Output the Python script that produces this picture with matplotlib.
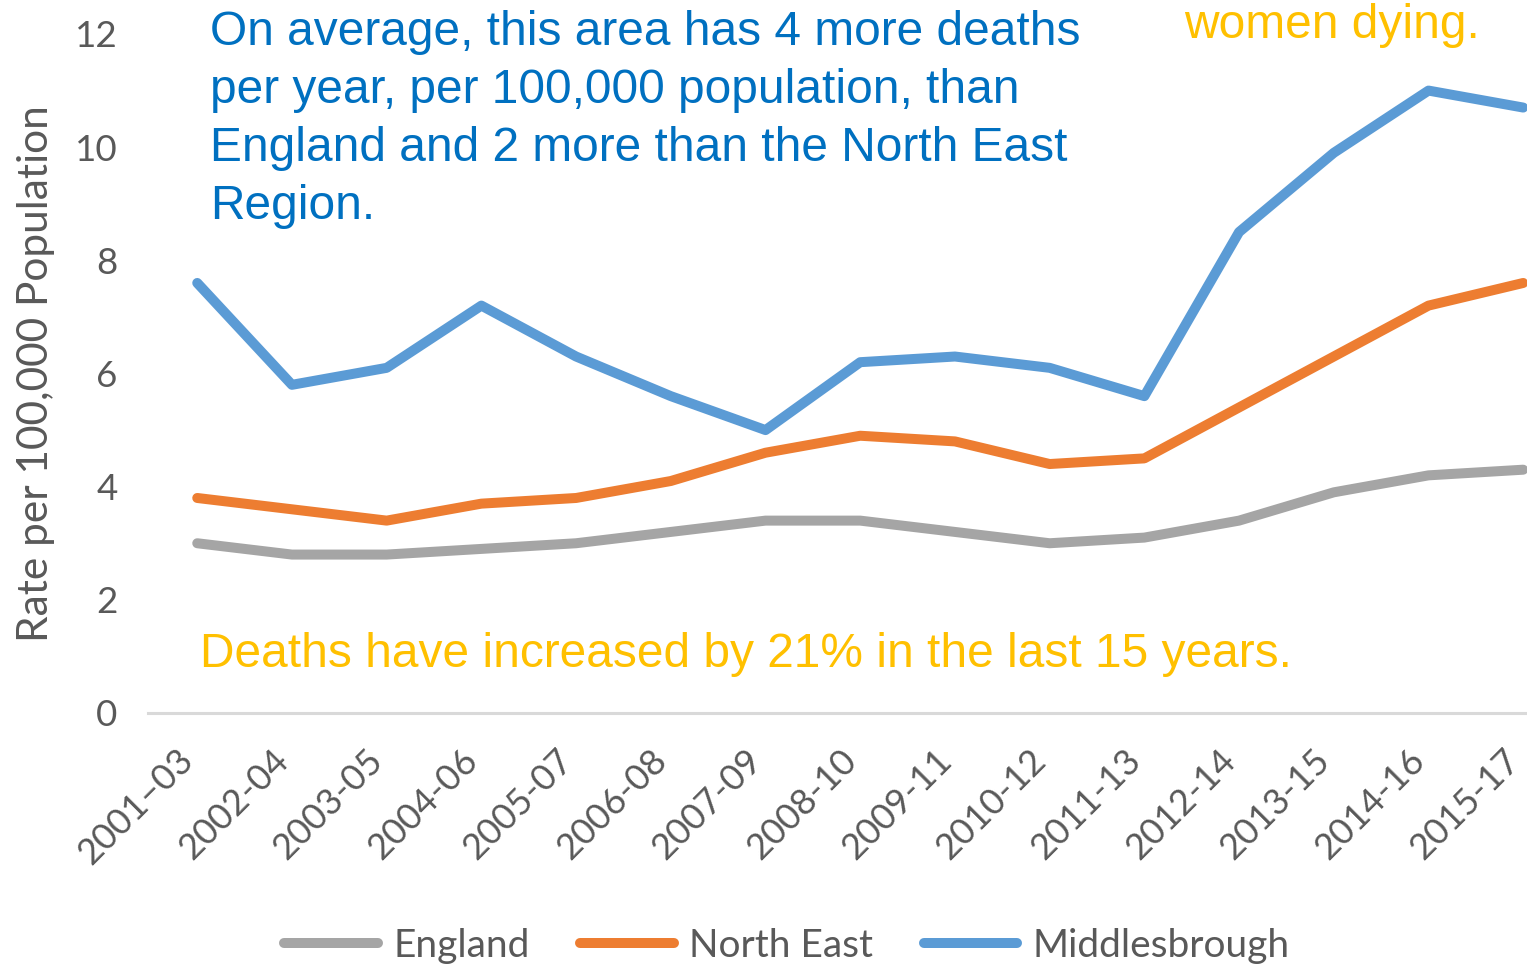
import matplotlib.pyplot as plt
import matplotlib.transforms as mtransforms

periods = ['2001–03', '2002-04', '2003-05', '2004-06', '2005-07', '2006-08', '2007-09', '2008-10',
           '2009-11', '2010-12', '2011-13', '2012-14', '2013-15', '2014-16', '2015-17']
england = [3.0, 2.8, 2.8, 2.9, 3.0, 3.2, 3.4, 3.4, 3.2, 3.0, 3.1, 3.4, 3.9, 4.2, 4.3]
north_east = [3.8, 3.6, 3.4, 3.7, 3.8, 4.1, 4.6, 4.9, 4.8, 4.4, 4.5, 5.4, 6.3, 7.2, 7.6]
middlesbrough = [7.6, 5.8, 6.1, 7.2, 6.3, 5.6, 5.0, 6.2, 6.3, 6.1, 5.6, 8.5, 9.9, 11.0, 10.7]

tick_font = 'Lato'
note_font = 'Liberation Sans'
grey_text = '#595959'

fig = plt.figure(figsize=(15.27, 9.67), dpi=100)
ax = fig.add_axes([148 / 1527, 254 / 967, 1 - 148 / 1527, 679 / 967])

x = list(range(len(periods)))
ax.plot(x, england, color='#A5A5A5', lw=7.2, solid_capstyle='round', label='England')
ax.plot(x, north_east, color='#ED7D31', lw=7.2, solid_capstyle='round', label='North East')
ax.plot(x, middlesbrough, color='#5B9BD5', lw=7.2, solid_capstyle='round', label='Middlesbrough')

ax.set_xlim(-0.52, 14.04)
ax.set_ylim(0, 12)
ax.set_yticks([0, 2, 4, 6, 8, 10, 12])
ax.set_xticks(x)
ax.tick_params(axis='both', length=0)
ax.tick_params(axis='x', pad=30)
ax.tick_params(axis='y', pad=22)
ax.set_xticklabels(periods, rotation=45, ha='right', va='center', rotation_mode='anchor',
                   fontfamily=tick_font, fontsize=26, color=grey_text)
# nudge the slanted labels a bit left so the last one stays inside the picture
shift = mtransforms.ScaledTranslation(-9 / 100, 0, fig.dpi_scale_trans)
for lab in ax.get_xticklabels():
    lab.set_transform(lab.get_transform() + shift)
for lab in ax.get_yticklabels():
    lab.set_fontfamily(tick_font)
    lab.set_fontsize(26.5)
    lab.set_color(grey_text)
for side in ['top', 'right', 'left']:
    ax.spines[side].set_visible(False)
ax.spines['bottom'].set_color('#D9D9D9')
ax.spines['bottom'].set_linewidth(2.2)

ax.set_ylabel('Rate per 100,000 Population', fontfamily=tick_font, fontsize=30.5, color=grey_text,
              labelpad=14)

fig.text(210 / 1527, 1 - 10 / 967,
         'On average, this area has 4 more deaths\nper year, per 100,000 population, than\n'
         'England and 2 more than the North East\nRegion.',
         fontfamily=note_font, fontsize=34.5, color='#0070C0', ha='left', va='top', linespacing=1.37)
fig.text(1480 / 1527, 1 - 38 / 967, 'women dying.', fontfamily=note_font, fontsize=34.5,
         color='#FFC000', ha='right', va='baseline')
fig.text(200 / 1527, 1 - 667 / 967, 'Deaths have increased by 21% in the last 15 years.',
         fontfamily=note_font, fontsize=34.5, color='#FFC000', ha='left', va='baseline')

leg = fig.legend(loc='center', bbox_to_anchor=(787 / 1527, 1 - 946 / 967), ncol=3, frameon=False,
                 prop={'family': tick_font, 'size': 28}, handlelength=2.4, handletextpad=0.4,
                 columnspacing=1.3)
for t in leg.get_texts():
    t.set_color(grey_text)

fig.savefig('out.png', dpi=100)
